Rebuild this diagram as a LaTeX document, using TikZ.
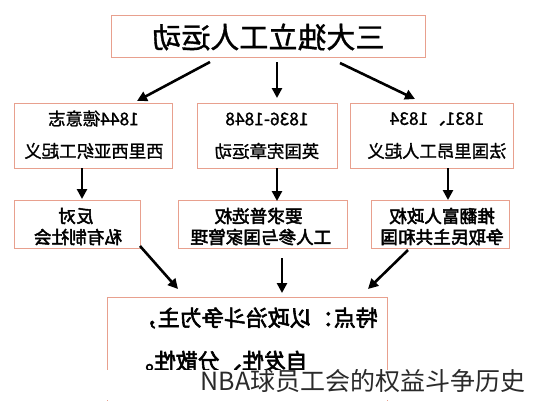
\documentclass[tikz,border=0pt]{standalone}
\usepackage{fontspec}
\usepackage{graphicx}
\newfontfamily\cjk{Noto Sans CJK SC}
\newfontfamily\cjkm[FakeBold=1.2]{Noto Sans CJK SC}
\newfontfamily\cjkb[FakeBold=2.6]{Noto Sans CJK SC}
\usetikzlibrary{arrows.meta}
\definecolor{boxc}{HTML}{E8A08E}
\definecolor{wmc}{HTML}{2A2A2A}
\tikzset{
  boxnode/.style={draw=boxc, line width=1pt, fill=white, inner sep=0pt},
  txt/.style={inner sep=0pt, font=\cjk},
  midtxt/.style={inner sep=0pt, font=\cjkm\fontsize{17.4}{19}\selectfont},
  lowtxt/.style={inner sep=0pt, font=\cjkb\fontsize{17.6}{19}\selectfont},
  arr/.style={line width=2.6pt, -{Triangle[length=10pt,width=10pt]}},
}
\begin{document}
\begin{tikzpicture}[x=1pt,y=-1pt]
\useasboundingbox (0,0) rectangle (533,400);
% boxes
\node[boxnode, minimum width=314pt, minimum height=42pt] (title) at (268,36) {};
\node[boxnode, minimum width=158pt, minimum height=65pt] (m1) at (93,135.5) {};
\node[boxnode, minimum width=140pt, minimum height=65pt] (m2) at (267,135.5) {};
\node[boxnode, minimum width=163pt, minimum height=65pt] (m3) at (431.5,135.5) {};
\node[boxnode, minimum width=126pt, minimum height=48pt] (t1) at (77,224) {};
\node[boxnode, minimum width=169pt, minimum height=48pt] (t2) at (262.5,224) {};
\node[boxnode, minimum width=138pt, minimum height=48pt] (t3) at (440,224) {};
\node[boxnode, minimum width=280pt, minimum height=110pt] (bot) at (247,352) {};
% texts (mirrored as in the reference)
\node[txt, font=\cjkm\fontsize{29}{31}\selectfont] (titletxt) at (268.5,37) {\reflectbox{三大独立工人运动}};
\node[midtxt] (m1a) at (93.5,118.5) {\reflectbox{1844德意志}};
\node[midtxt] (m1b) at (94,151) {\reflectbox{西里西亚织工起义}};
\node[midtxt] (m2a) at (267,119) {\reflectbox{1836-1848}};
\node[midtxt] (m2b) at (267,151) {\reflectbox{英国宪章运动}};
\node[midtxt] (m3a) at (437,119) {\reflectbox{1831、1834}};
\node[midtxt] (m3b) at (437,151) {\reflectbox{法国里昂工人起义}};
\node[lowtxt] (t1a) at (76,216) {\reflectbox{反对}};
\node[lowtxt] (t1b) at (78,237) {\reflectbox{私有制社会}};
\node[lowtxt] (t2a) at (258.5,216) {\reflectbox{要求普选权}};
\node[lowtxt] (t2b) at (261,237) {\reflectbox{工人参与国家管理}};
\node[lowtxt] (t3a) at (442,216) {\reflectbox{推翻富人政权}};
\node[lowtxt] (t3b) at (442,237) {\reflectbox{争取民主共和国}};
\node[txt, anchor=east, font=\cjkb\fontsize{22}{24}\selectfont] (b1) at (378,318) {\reflectbox{特点：以政治斗争为主，}};
\node[txt, anchor=east, font=\cjkb\fontsize{22}{24}\selectfont] (b2) at (308,361) {\reflectbox{自发性、分散性。}};
% arrow end points
\coordinate (a1s) at (210,62);  \coordinate (a1e) at (137,101);
\coordinate (a2s) at (277,62);  \coordinate (a2e) at (277,98);
\coordinate (a3s) at (340,63);  \coordinate (a3e) at (415,99);
\coordinate (b1s) at (82,168);  \coordinate (b1e) at (82,199);
\coordinate (b2s) at (277,168); \coordinate (b2e) at (277,201);
\coordinate (b3s) at (448,168); \coordinate (b3e) at (448,200);
\coordinate (c1s) at (140,246); \coordinate (c1e) at (178,289);
\coordinate (c2s) at (282,258); \coordinate (c2e) at (282,293);
\coordinate (c3s) at (408,250); \coordinate (c3e) at (368,289);
\draw[arr] (a1s) -- (a1e);
\draw[arr] (a2s) -- (a2e);
\draw[arr] (a3s) -- (a3e);
\draw[arr] (b1s) -- (b1e);
\draw[arr] (b2s) -- (b2e);
\draw[arr] (b3s) -- (b3e);
\draw[arr] (c1s) -- (c1e);
\draw[arr] (c2s) -- (c2e);
\draw[arr] (c3s) -- (c3e);
% white band with caption
\fill[white] (0,370) rectangle (533,400);
\node[txt, text=wmc, font=\cjk\fontsize{25}{27}\selectfont] (wm) at (363,381) {NBA球员工会的权益斗争历史};
\end{tikzpicture}
\end{document}
